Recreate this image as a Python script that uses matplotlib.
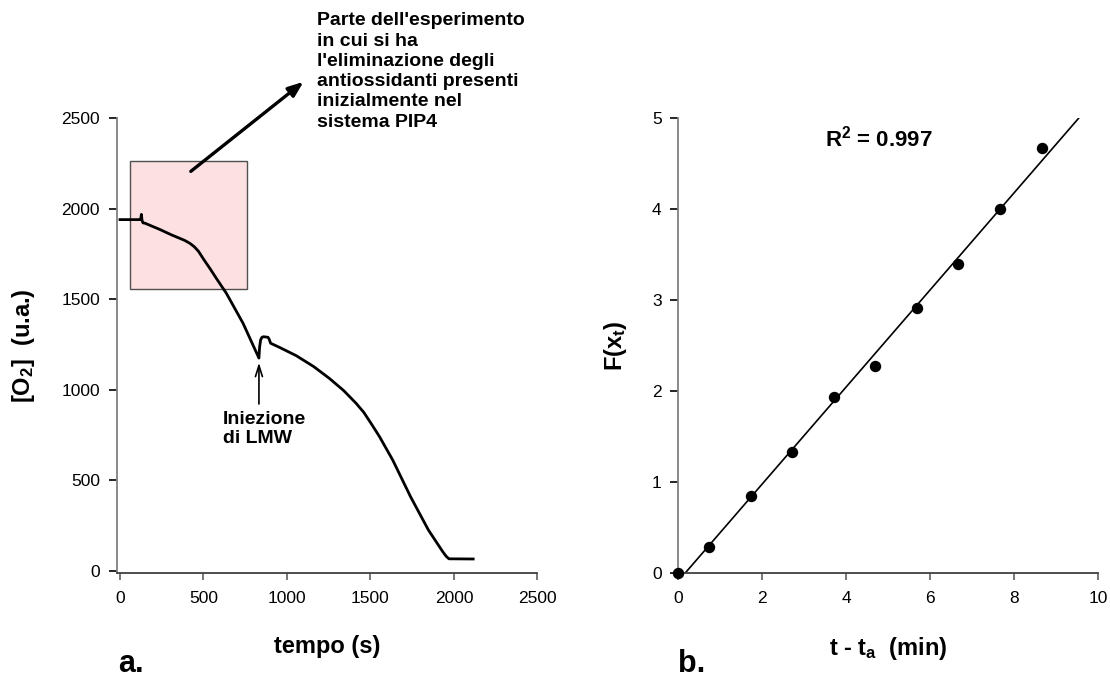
import numpy as np
import matplotlib
matplotlib.use('Agg')
import matplotlib.pyplot as plt
from matplotlib.patches import Rectangle

# panel a: oxygen trace
tempo = [0, 118, 124, 128, 132, 138, 150, 240, 310, 388, 420, 445, 470, 500,
         540, 578, 637, 737, 832, 836, 842, 850, 860, 886, 893, 902, 960, 1056,
         1160, 1255, 1340, 1414, 1460, 1505, 1554, 1633, 1740, 1847, 1933,
         1955, 1970, 2115]
o2 = [1940, 1940, 1943, 1969, 1935, 1922, 1920, 1885, 1855, 1825, 1808, 1790,
      1765, 1722, 1668, 1614, 1533, 1367, 1175, 1235, 1275, 1290, 1293, 1290,
      1280, 1257, 1232, 1188, 1128, 1062, 995, 925, 875, 812, 741, 612, 409,
      225, 105, 78, 66, 65]

# panel b: linearised data
t_min = [0, 0.72, 1.72, 2.71, 3.71, 4.69, 5.68, 6.67, 7.65, 8.65]
F_xt = [0, 0.286, 0.85, 1.335, 1.935, 2.283, 2.91, 3.40, 4.00, 4.67]

plt.rcParams['font.family'] = ['Liberation Sans', 'DejaVu Sans']
plt.rcParams['mathtext.fontset'] = 'custom'
plt.rcParams['mathtext.rm'] = 'Liberation Sans:bold'
plt.rcParams['mathtext.it'] = 'Liberation Sans:bold'
plt.rcParams['mathtext.bf'] = 'Liberation Sans:bold'


def style_axes(ax):
    for side in ['top', 'right']:
        ax.spines[side].set_visible(False)
    ax.spines['left'].set_color('#808080')
    ax.spines['bottom'].set_color('#404040')
    ax.spines['left'].set_linewidth(1.3)
    ax.spines['bottom'].set_linewidth(1.3)
    ax.tick_params(axis='y', direction='out', length=6, width=1.2,
                   color='k', labelsize=12.5, pad=6)
    ax.tick_params(axis='x', direction='out', length=5, width=1.2,
                   color='#606060', labelsize=12.5, pad=8)


def plot_trace(ax):
    box = Rectangle((60, 1555), 703, 709, facecolor='#fde0e1',
                    edgecolor='#505050', linewidth=1.0, zorder=1)
    ax.add_patch(box)
    ax.plot(tempo, o2, color='k', lw=2, zorder=3)

    ax.annotate('', xy=(1112, 2711), xytext=(411, 2197),
                arrowprops=dict(arrowstyle='-|>,head_length=0.9,head_width=0.35',
                                color='k', lw=2.4),
                annotation_clip=False)
    ax.text(1177, 3085, "Parte dell'esperimento\nin cui si ha\n"
            "l'eliminazione degli\nantiossidanti presenti\n"
            "inizialmente nel\nsistema PIP4",
            fontsize=14, fontweight='bold', ha='left', va='top',
            linespacing=1.25, clip_on=False)

    ax.annotate('', xy=(832, 1165), xytext=(832, 906),
                arrowprops=dict(arrowstyle='->,head_length=0.8,head_width=0.25',
                                color='k', lw=1.2))
    ax.text(615, 885, 'Iniezione\ndi LMW', fontsize=14, fontweight='bold',
            ha='left', va='top', linespacing=1.2)

    ax.set_xlim(-20, 2500)
    ax.set_ylim(-14, 2500)
    ax.set_xticks(np.arange(0, 2501, 500))
    ax.set_yticks(np.arange(0, 2501, 500))
    style_axes(ax)
    ax.set_xlabel('tempo (s)', fontsize=17, fontweight='bold')
    ax.set_ylabel('[O$_{2}$]  (u.a.)', fontsize=17, fontweight='bold')
    ax.xaxis.set_label_coords(0.5, -0.135)
    ax.yaxis.set_label_coords(-0.19, 0.5)


def plot_fit(ax):
    slope, intercept = np.polyfit(t_min, F_xt, 1)
    x0 = -intercept / slope
    x1 = (5 - intercept) / slope
    ax.plot([x0, x1], [0, 5], color='k', lw=1.2, zorder=2)
    ax.plot(t_min, F_xt, 'o', color='k', markersize=7.2, clip_on=False,
            zorder=3)
    ax.text(4.78, 4.78, 'R$^{2}$ = 0.997', fontsize=16, fontweight='bold',
            ha='center', va='center')

    ax.set_xlim(0, 10)
    ax.set_ylim(0, 5)
    ax.set_xticks(np.arange(0, 11, 2))
    ax.set_yticks(np.arange(0, 6, 1))
    style_axes(ax)
    ax.set_xlabel('t - t$_{a}$  (min)', fontsize=17, fontweight='bold')
    ax.set_ylabel('F(x$_{t}$)', fontsize=17, fontweight='bold')
    ax.xaxis.set_label_coords(0.5, -0.135)
    ax.yaxis.set_label_coords(-0.117, 0.5)


def main():
    fig = plt.figure(figsize=(11.1, 6.82), dpi=100)
    ax_a = fig.add_axes([0.1051, 0.1594, 0.3791, 0.6672])
    ax_b = fig.add_axes([0.6111, 0.1594, 0.3784, 0.6672])

    plot_trace(ax_a)
    plot_fit(ax_b)

    fig.text(0.106, 0.014, 'a.', fontsize=22, fontweight='bold',
             ha='left', va='baseline')
    fig.text(0.611, 0.014, 'b.', fontsize=22, fontweight='bold',
             ha='left', va='baseline')

    fig.savefig('out.png', dpi=100)


if __name__ == '__main__':
    main()
